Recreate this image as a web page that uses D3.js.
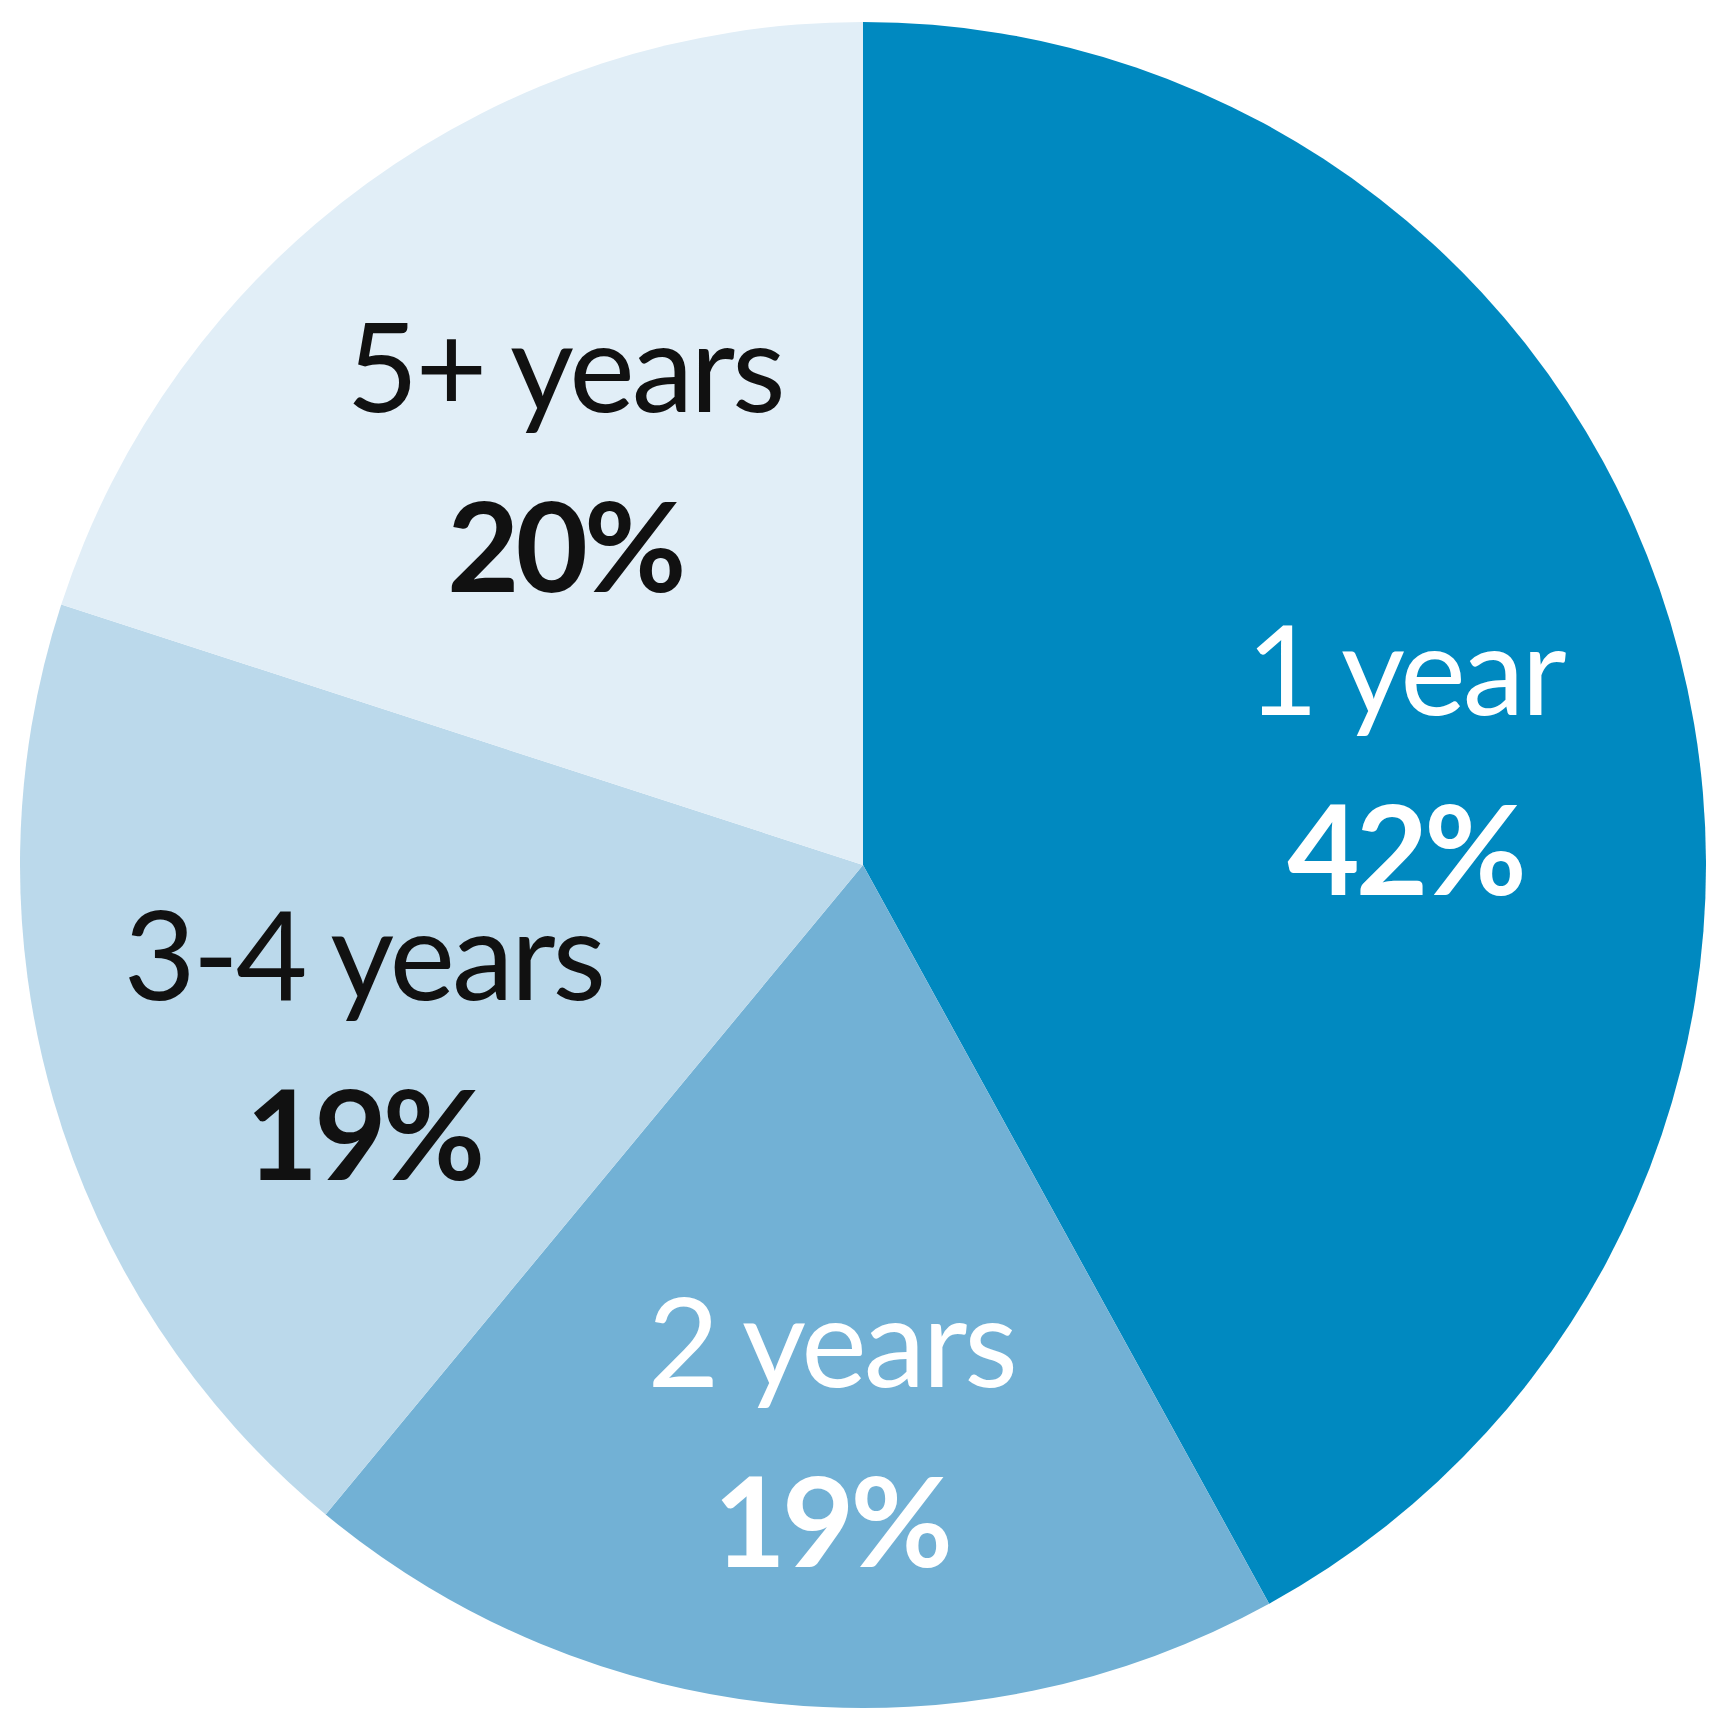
<!DOCTYPE html>
<html>
  <head>
    <meta charset="utf-8"/>
    <style>
body {
  margin: 0;
  background: #fff;
}
svg {
  display: block;
}
text {
  font-family: Lato, "Open Sans", sans-serif;
}
    </style>
  </head>
  <body>
    <svg id="chart" width="1724" height="1735"></svg>
    <script src="https://cdnjs.cloudflare.com/ajax/libs/d3/7.8.5/d3.min.js"></script>
    <script>
const categories = ["1 year", "2 years", "3-4 years", "5+ years"];
const shares = [42, 19, 19, 20];
const fills = ["#0089c0", "#72b1d5", "#bbd9eb", "#e1eef7"];
const inks = ["#fff", "#fff", "#111", "#111"];

const cx = 863, cy = 865, radius = 843, labelRadius = 540;
// labels sit a bit right/below the true centroid in the original
const labelShiftX = 19, labelShiftY = 24;

const svg = d3.select("#chart");
const g = svg.append("g")
    .attr("transform", `translate(${cx},${cy})`);

const pie = d3.pie()
    .sort(null)
    .value(d => d.value);

const slices = pie(categories.map((c, i) => ({ name: c, value: shares[i], i: i })));

const arc = d3.arc()
    .innerRadius(0)
    .outerRadius(radius);
const labelArc = d3.arc()
    .innerRadius(labelRadius)
    .outerRadius(labelRadius);

g.selectAll("path")
  .data(slices)
  .join("path")
    .attr("d", arc)
    .attr("fill", d => fills[d.data.i]);

const labels = g.selectAll("g.label")
  .data(slices)
  .join("g")
    .attr("class", "label")
    .attr("transform", d => {
      let [x, y] = labelArc.centroid(d);
      return `translate(${x + labelShiftX},${y + labelShiftY})`;
    })
    .attr("fill", d => inks[d.data.i])
    .attr("text-anchor", "middle");

labels.append("text")
    .attr("y", -40)
    .attr("font-size", 124)
    .attr("font-weight", 400)
    .attr("letter-spacing", -3)
    .text(d => d.data.name);

labels.append("text")
    .attr("y", 140)
    .attr("font-size", 125)
    .attr("font-weight", 700)
    .attr("letter-spacing", -4)
    .text(d => d.data.value + "%");
    </script>
  </body>
</html>
